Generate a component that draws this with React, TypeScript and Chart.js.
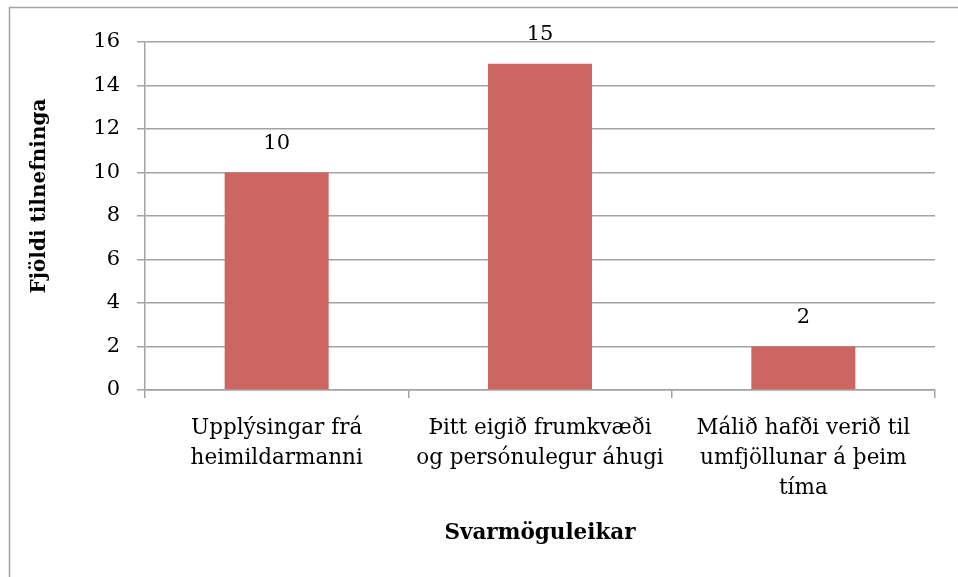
import React, { useEffect, useRef } from "react";
import { Chart, registerables } from "chart.js";

Chart.register(...registerables);

const categories: string[][] = [
  ["Upplýsingar frá", "heimildarmanni"],
  ["Þitt eigið frumkvæði", "og persónulegur áhugi"],
  ["Málið hafði verið til", "umfjöllunar á þeim", "tíma"],
];
const values: number[] = [10, 15, 2];
const yTitle = "Fjöldi tilnefninga";
const xTitle = "Svarmöguleikar";

const FONT = "'DejaVu Serif', serif";
const GRID = "#a3a3a3";
const BAR = "#cd6661";

const framePlugin = {
  id: "frame",
  beforeDraw(chart: any) {
    const ctx = chart.ctx;
    ctx.save();
    ctx.fillStyle = "#ffffff";
    ctx.fillRect(0, 0, chart.width, chart.height);
    ctx.strokeStyle = GRID;
    ctx.lineWidth = 1.5;
    ctx.beginPath();
    ctx.moveTo(9.5, chart.height + 5);
    ctx.lineTo(9.5, 7.5);
    ctx.lineTo(chart.width + 5, 7.5);
    ctx.stroke();
    ctx.restore();
  },
};

const labelPlugin = {
  id: "barLabels",
  afterDatasetsDraw(chart: any) {
    const ctx = chart.ctx;
    const meta = chart.getDatasetMeta(0);
    ctx.save();
    ctx.fillStyle = "#000";
    ctx.font = `21px ${FONT}`;
    ctx.textAlign = "center";
    ctx.textBaseline = "middle";
    meta.data.forEach((el: any, i: number) => {
      ctx.fillText(String(values[i]), el.x, el.y - 29);
    });
    // y-axis title
    ctx.font = `bold 20px ${FONT}`;
    ctx.translate(40, 196);
    ctx.rotate(-Math.PI / 2);
    ctx.fillText(yTitle, 0, 0);
    ctx.restore();
  },
};

export default function App() {
  const ref = useRef<HTMLCanvasElement>(null);
  useEffect(() => {
    if (!ref.current) return;
    const chart = new Chart(ref.current, {
      type: "bar",
      data: {
        labels: categories,
        datasets: [
          {
            data: values,
            backgroundColor: BAR,
            borderWidth: 0,
            barPercentage: 0.395,
            categoryPercentage: 1,
          },
        ],
      },
      options: {
        responsive: false,
        animation: false,
        devicePixelRatio: 1,
        layout: { padding: { left: 9, right: 23, top: 42, bottom: 0 } },
        plugins: { legend: { display: false }, tooltip: { enabled: false } },
        scales: {
          x: {
            grid: {
              offset: true,
              drawOnChartArea: false,
              tickLength: 8,
              color: GRID,
              lineWidth: 1.5,
            },
            border: { color: GRID, width: 1.5 },
            ticks: {
              color: "#000",
              font: { family: FONT, size: 21.5, lineHeight: 1.4 },
              padding: 15,
              maxRotation: 0,
              autoSkip: false,
            },
            title: {
              display: true,
              text: xTitle,
              color: "#000",
              font: { family: FONT, size: 21.5, weight: "bold" },
              padding: { top: 0, bottom: 31 },
            },
            afterFit(scale: any) {
              scale.height = 577 - 390;
            },
          },
          y: {
            min: 0,
            max: 16,
            ticks: {
              stepSize: 2,
              color: "#000",
              font: { family: FONT, size: 21 },
              padding: 17,
            },
            grid: { color: GRID, lineWidth: 1.5, tickLength: 8 },
            border: { color: GRID, width: 1.5 },
            title: { display: false },
            afterFit(scale: any) {
              scale.width = 145 - 9;
            },
          },
        },
      },
      plugins: [framePlugin, labelPlugin],
    });
    return () => chart.destroy();
  }, []);
  return (
    <div style={{ position: "absolute", left: 0, top: 0, width: 958, height: 577 }}>
      <canvas ref={ref} width={958} height={577} style={{ display: "block" }} />
    </div>
  );
}
